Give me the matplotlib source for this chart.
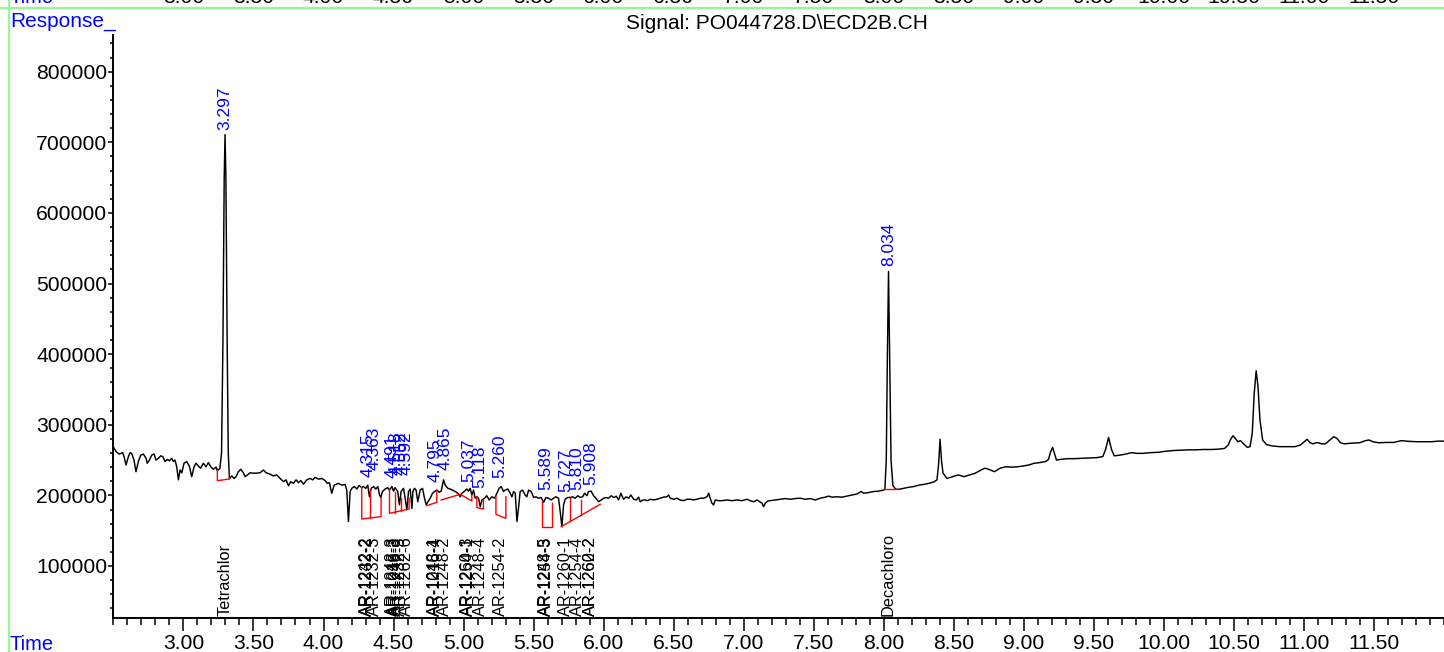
"""GC-ECD chromatogram (PO044728.D, ECD2B) redrawn with matplotlib."""

import matplotlib

matplotlib.use("Agg")

import matplotlib.pyplot as plt
import matplotlib.transforms as mtransforms
from matplotlib.lines import Line2D
from matplotlib.ticker import FormatStrFormatter, MultipleLocator

plt.rcParams.update(
    {
        "font.family": ["Liberation Sans", "DejaVu Sans"],
        "font.size": 15.2,
        "axes.linewidth": 1.4,
    }
)

BLUE = "#0000ff"
RED = "#ff0000"
FRAME = "#98f598"

# ---------------------------------------------------------------------------
# signal trace (min, response)
# ---------------------------------------------------------------------------
TIME = [
    2.495, 2.519, 2.542, 2.566, 2.576, 2.590, 2.607, 2.619, 2.630, 2.647,
    2.661, 2.678, 2.695, 2.714, 2.733, 2.742, 2.757, 2.773, 2.790, 2.804,
    2.821, 2.838, 2.852, 2.869, 2.885, 2.900, 2.916, 2.928, 2.940, 2.952,
    2.964, 2.976, 2.988, 3.004, 3.023, 3.042, 3.059, 3.076, 3.090, 3.107,
    3.123, 3.142, 3.161, 3.178, 3.195, 3.214, 3.233, 3.242, 3.260, 3.272,
    3.282, 3.291, 3.297, 3.303, 3.312, 3.320, 3.328, 3.345, 3.361, 3.376,
    3.392, 3.409, 3.428, 3.440, 3.457, 3.476, 3.495, 3.523, 3.547, 3.571,
    3.590, 3.614, 3.642, 3.666, 3.690, 3.714, 3.733, 3.750, 3.766, 3.785,
    3.804, 3.821, 3.838, 3.857, 3.880, 3.904, 3.923, 3.940, 3.964, 3.988,
    4.011, 4.028, 4.042, 4.059, 4.076, 4.107, 4.131, 4.154, 4.166, 4.178,
    4.190, 4.202, 4.221, 4.238, 4.254, 4.273, 4.285, 4.302, 4.316, 4.328,
    4.340, 4.357, 4.373, 4.388, 4.400, 4.409, 4.421, 4.440, 4.459, 4.471,
    4.488, 4.500, 4.511, 4.530, 4.542, 4.554, 4.571, 4.583, 4.595, 4.607,
    4.619, 4.631, 4.638, 4.650, 4.661, 4.673, 4.690, 4.707, 4.721, 4.733,
    4.745, 4.762, 4.778, 4.797, 4.809, 4.826, 4.840, 4.857, 4.869, 4.888,
    4.904, 4.921, 4.940, 4.959, 4.976, 4.988, 5.007, 5.023, 5.035, 5.047,
    5.059, 5.071, 5.083, 5.095, 5.107, 5.119, 5.131, 5.150, 5.166, 5.183,
    5.202, 5.221, 5.238, 5.254, 5.269, 5.285, 5.297, 5.316, 5.333, 5.345,
    5.357, 5.369, 5.381, 5.392, 5.404, 5.421, 5.440, 5.452, 5.464, 5.483,
    5.500, 5.516, 5.535, 5.554, 5.571, 5.588, 5.607, 5.626, 5.642, 5.659,
    5.678, 5.690, 5.702, 5.714, 5.726, 5.745, 5.762, 5.778, 5.797, 5.816,
    5.833, 5.850, 5.864, 5.881, 5.892, 5.911, 5.928, 5.945, 5.964, 5.983,
    6.000, 6.016, 6.035, 6.054, 6.071, 6.083, 6.090, 6.107, 6.123, 6.142,
    6.161, 6.178, 6.195, 6.214, 6.233, 6.250, 6.261, 6.281, 6.297, 6.314,
    6.333, 6.357, 6.381, 6.404, 6.428, 6.452, 6.464, 6.476, 6.500, 6.523,
    6.547, 6.571, 6.595, 6.619, 6.642, 6.666, 6.690, 6.714, 6.738, 6.750,
    6.761, 6.773, 6.785, 6.797, 6.821, 6.845, 6.881, 6.916, 6.952, 6.988,
    7.023, 7.047, 7.071, 7.095, 7.114, 7.131, 7.142, 7.154, 7.171, 7.190,
    7.261, 7.297, 7.333, 7.369, 7.404, 7.440, 7.476, 7.511, 7.547, 7.583,
    7.607, 7.630, 7.666, 7.702, 7.738, 7.773, 7.809, 7.838, 7.857, 7.892,
    7.928, 7.964, 8.000, 8.008, 8.018, 8.026, 8.034, 8.042, 8.052, 8.065,
    8.085, 8.107, 8.142, 8.178, 8.214, 8.250, 8.285, 8.321, 8.357, 8.380,
    8.392, 8.402, 8.412, 8.423, 8.451, 8.491, 8.532, 8.573, 8.613, 8.654,
    8.695, 8.722, 8.749, 8.790, 8.831, 8.871, 8.912, 8.953, 8.994, 9.034,
    9.075, 9.116, 9.157, 9.176, 9.192, 9.206, 9.219, 9.233, 9.265, 9.306,
    9.360, 9.415, 9.469, 9.523, 9.564, 9.583, 9.605, 9.627, 9.646, 9.686,
    9.727, 9.768, 9.808, 9.849, 9.903, 9.958, 10.012, 10.066, 10.121, 10.175,
    10.229, 10.284, 10.338, 10.392, 10.433, 10.460, 10.474, 10.493, 10.509, 10.528,
    10.547, 10.569, 10.596, 10.615, 10.631, 10.645, 10.659, 10.672, 10.686, 10.705,
    10.732, 10.773, 10.827, 10.881, 10.936, 10.976, 11.003, 11.022, 11.044, 11.066,
    11.085, 11.104, 11.126, 11.153, 11.185, 11.212, 11.234, 11.261, 11.288, 11.343,
    11.397, 11.438, 11.465, 11.492, 11.533, 11.587, 11.641, 11.695, 11.750, 11.804,
    11.858, 11.912, 11.967, 12.016,
]
RESPONSE = [
    270000, 262000, 258500, 260500, 255000, 243000, 255000, 260500, 259500, 250000,
    233500, 248000, 257000, 258500, 252500, 245500, 250000, 257000, 258500, 250000,
    252500, 256000, 255000, 248000, 251000, 249000, 252500, 248000, 250000, 240500,
    222000, 236000, 232000, 245500, 248000, 241500, 226500, 240500, 245500, 241500,
    238500, 245500, 240500, 246500, 240500, 237000, 240000, 235000, 238000, 260000,
    420000, 650000, 711000, 650000, 420000, 260000, 224000, 227500, 224000, 226500,
    233500, 237000, 232000, 226500, 229000, 232000, 231500, 231500, 232000, 236000,
    232000, 230500, 227500, 229000, 224000, 219500, 222000, 213500, 219500, 217000,
    222000, 218000, 221000, 216000, 222000, 224000, 222000, 225500, 223000, 224000,
    221000, 217000, 218000, 203000, 214500, 217000, 214500, 215500, 207500, 163000,
    205500, 210000, 212500, 209000, 214000, 211000, 212500, 210000, 214500, 198000,
    210000, 212500, 209000, 212500, 200500, 197000, 205500, 209000, 211000, 207500,
    212500, 206000, 211000, 205500, 186500, 205500, 210000, 196000, 179500, 205500,
    209000, 181500, 205500, 210000, 207500, 191000, 207500, 210000, 196000, 186500,
    191000, 196000, 203000, 206000, 207500, 204500, 206000, 222000, 214500, 210000,
    209000, 207500, 205500, 203000, 198000, 203000, 206000, 209000, 206000, 210000,
    200500, 207500, 196000, 198000, 196000, 184000, 193500, 196000, 199500, 193500,
    198000, 196000, 203000, 210000, 212500, 205500, 207500, 209000, 203000, 198000,
    205500, 203000, 163000, 181500, 205500, 207500, 200500, 198000, 207500, 205500,
    197000, 198000, 196000, 197000, 190000, 197000, 196000, 193500, 196000, 198000,
    196000, 177000, 155500, 186500, 195000, 197000, 197000, 198000, 196000, 199500,
    197000, 198000, 203000, 199500, 205500, 206000, 199500, 196000, 191000, 193500,
    196000, 197000, 196000, 199500, 197000, 198000, 199000, 193500, 203000, 194500,
    198000, 196000, 200500, 194500, 193500, 197500, 191000, 193500, 193500, 192500,
    194500, 193500, 194500, 196000, 197500, 198000, 200500, 196000, 194500, 196000,
    193500, 192500, 194500, 194500, 193500, 194500, 196000, 196000, 198000, 203000,
    196000, 189000, 186500, 193500, 192500, 192500, 193500, 192500, 193500, 192500,
    194500, 192500, 191000, 193500, 191000, 189000, 184000, 189000, 192000, 192500,
    194500, 195500, 194500, 195500, 196000, 194500, 195500, 193500, 196000, 197500,
    199000, 197500, 198000, 197500, 199000, 200500, 202000, 205500, 203000, 204000,
    205500, 206000, 207500, 209000, 250000, 400000, 517000, 400000, 250000, 214000,
    209000, 208500, 210000, 211500, 212500, 214500, 215500, 217000, 219000, 222000,
    245000, 279500, 250000, 231500, 224000, 226500, 229000, 226500, 229000, 231500,
    236000, 238500, 237000, 233500, 238500, 240500, 240000, 240500, 241500, 243000,
    245500, 246500, 248000, 251000, 262000, 268000, 259500, 250000, 251000, 252000,
    252000, 252500, 253000, 253500, 255000, 264500, 282000, 264500, 256000, 257000,
    258500, 260500, 259500, 259500, 260500, 261000, 262500, 263500, 264000, 264500,
    264500, 265000, 265000, 265500, 266500, 271500, 278500, 284500, 281000, 276000,
    277500, 273000, 268000, 269000, 288000, 344500, 376500, 354000, 307000, 278500,
    272000, 270000, 269000, 269000, 269000, 271500, 276000, 279500, 274500, 273000,
    274500, 274500, 273000, 273000, 278500, 283000, 281000, 274500, 273000, 274000,
    274500, 277500, 278500, 276000, 274500, 275000, 275000, 277500, 276500, 276000,
    276000, 276000, 277000, 276500,
]

# integrated peaks: retention time, height where the blue label starts
PEAK_TIMES = [3.297, 4.315, 4.363, 4.491, 4.518, 4.552, 4.592, 4.795, 4.865,
              5.037, 5.118, 5.260, 5.589, 5.727, 5.810, 5.908, 8.034]
PEAK_LABEL_Y = [718000, 226000, 236000, 224500, 229000, 229000, 229000, 219000,
                236000, 219000, 210500, 224500, 207500, 205000, 207500, 214500,
                525000]

# compound names printed along the time axis
NAME_TIMES = [3.297, 4.310, 4.315, 4.363, 4.491, 4.505, 4.518, 4.552, 4.592,
              4.795, 4.800, 4.865, 5.030, 5.037, 5.118, 5.260, 5.585, 5.589,
              5.727, 5.810, 5.905, 5.908, 8.034]
NAMES = ["Tetrachlor", "AR-1242-2", "AR-1232-2", "AR-1232-3", "AR-1242-3",
         "AR-1016-3", "AR-1248-3", "AR-1232-5", "AR-1262-6", "AR-1248-1",
         "AR-1016-4", "AR-1248-2", "AR-1260-3", "AR-1254-1", "AR-1248-4",
         "AR-1254-2", "AR-1248-5", "AR-1254-3", "AR-1260-1", "AR-1254-4",
         "AR-1260-2", "AR-1262-2", "Decachloro"]

# integration baselines (red): drop line, baseline, drop line
BASE_T = [
    [3.242, 3.242, 3.328, 3.328],
    [4.273, 4.273, 4.411, 4.411],
    [4.333, 4.333],
    [4.471, 4.471, 4.611, 4.611],
    [4.507, 4.507],
    [4.554, 4.554],
    [4.738, 4.809, 4.809],
    [4.840, 4.976, 5.059, 5.059],
    [5.095, 5.095, 5.142, 5.142],
    [5.231, 5.231, 5.302, 5.302],
    [5.559, 5.559, 5.631, 5.631],
    [5.697, 5.976],
    [5.762, 5.762],
    [5.840, 5.840],
    [7.999, 8.092],
]
BASE_V = [
    [235000, 220800, 223200, 224000],
    [211000, 166600, 169900, 196800],
    [207600, 168500],
    [207600, 174600, 180700, 195900],
    [205300, 175500],
    [195900, 177900],
    [185500, 190200, 206200],
    [193500, 201500, 192100, 200600],
    [198200, 182600, 180700, 193500],
    [199600, 173200, 167500, 198200],
    [191100, 155700, 155700, 188800],
    [155700, 187400],
    [196800, 163100],
    [193500, 172000],
    [208600, 208600],
]

X_TICKS = [3.0, 3.5, 4.0, 4.5, 5.0, 5.5, 6.0, 6.5, 7.0, 7.5, 8.0, 8.5, 9.0,
           9.5, 10.0, 10.5, 11.0, 11.5]
Y_TICKS = [100000, 200000, 300000, 400000, 500000, 600000, 700000, 800000]


def draw():
    fig = plt.figure(figsize=(14.44, 6.52), dpi=100, facecolor="white")
    ax = fig.add_axes([113 / 1444, 34 / 652, 1 - 113 / 1444, 583 / 652])
    ax.set_xlim(2.497, 12.0)
    ax.set_ylim(26350, 852000)

    ax.plot(TIME, RESPONSE, color="black", lw=1.05, zorder=3)
    for bt, bv in zip(BASE_T, BASE_V):
        ax.plot(bt, bv, color=RED, lw=1.0, zorder=4)

    for t, y in zip(PEAK_TIMES, PEAK_LABEL_Y):
        ax.text(t, y, f"{t:.3f}", rotation=90, ha="center", va="bottom",
                color=BLUE, fontsize=12.5)

    name_tr = mtransforms.blended_transform_factory(ax.transData, ax.transAxes)
    for t, name in zip(NAME_TIMES, NAMES):
        ax.text(t, 0.003, name, rotation=90, ha="center", va="bottom",
                color="black", fontsize=11.8, transform=name_tr)

    # axes look: only left and bottom spines, outward ticks
    for side in ("top", "right"):
        ax.spines[side].set_visible(False)
    ax.set_xticks(X_TICKS)
    ax.xaxis.set_major_formatter(FormatStrFormatter("%.2f"))
    ax.xaxis.set_minor_locator(MultipleLocator(0.1))
    ax.set_yticks(Y_TICKS)
    ax.yaxis.set_minor_locator(MultipleLocator(20000))
    ax.tick_params(axis="x", which="major", direction="out", length=9, width=1.1, pad=2.5)
    ax.tick_params(axis="x", which="minor", direction="out", length=5, width=1.1)
    ax.tick_params(axis="y", which="major", direction="out", length=3.6, width=1.1, pad=0.5)
    ax.tick_params(axis="y", which="minor", direction="out", length=2.4, width=1.1)

    # header / footer texts
    fig.text(10 / 1444, 1 - 27 / 652, "Response_", color=BLUE, fontsize=15, va="baseline")
    fig.text(777 / 1444, 1 - 29 / 652, r"Signal: PO044728.D\ECD2B.CH", ha="center",
             va="baseline", fontsize=15)
    fig.text(10 / 1444, 2 / 652, "Time", color=BLUE, fontsize=14.5, va="baseline")

    # clipped axis labels of the panel above
    top_tr = mtransforms.blended_transform_factory(ax.transData, fig.transFigure)
    fig.text(10 / 1444, 1 - 3 / 652, "Time", color=BLUE, fontsize=14.5, va="baseline")
    for t in X_TICKS:
        ax.text(t, 1 - 3 / 652, f"{t:.2f}", ha="center", va="baseline",
                transform=top_tr, clip_on=False)

    # light green frame lines
    fig.add_artist(Line2D([0, 1], [1 - 8 / 652, 1 - 8 / 652], color=FRAME, lw=1.6,
                          transform=fig.transFigure))
    fig.add_artist(Line2D([8.5 / 1444, 8.5 / 1444], [0, 1], color=FRAME, lw=1.6,
                          transform=fig.transFigure))

    fig.savefig("out.png", dpi=100, facecolor="white")
    plt.close(fig)


if __name__ == "__main__":
    draw()
